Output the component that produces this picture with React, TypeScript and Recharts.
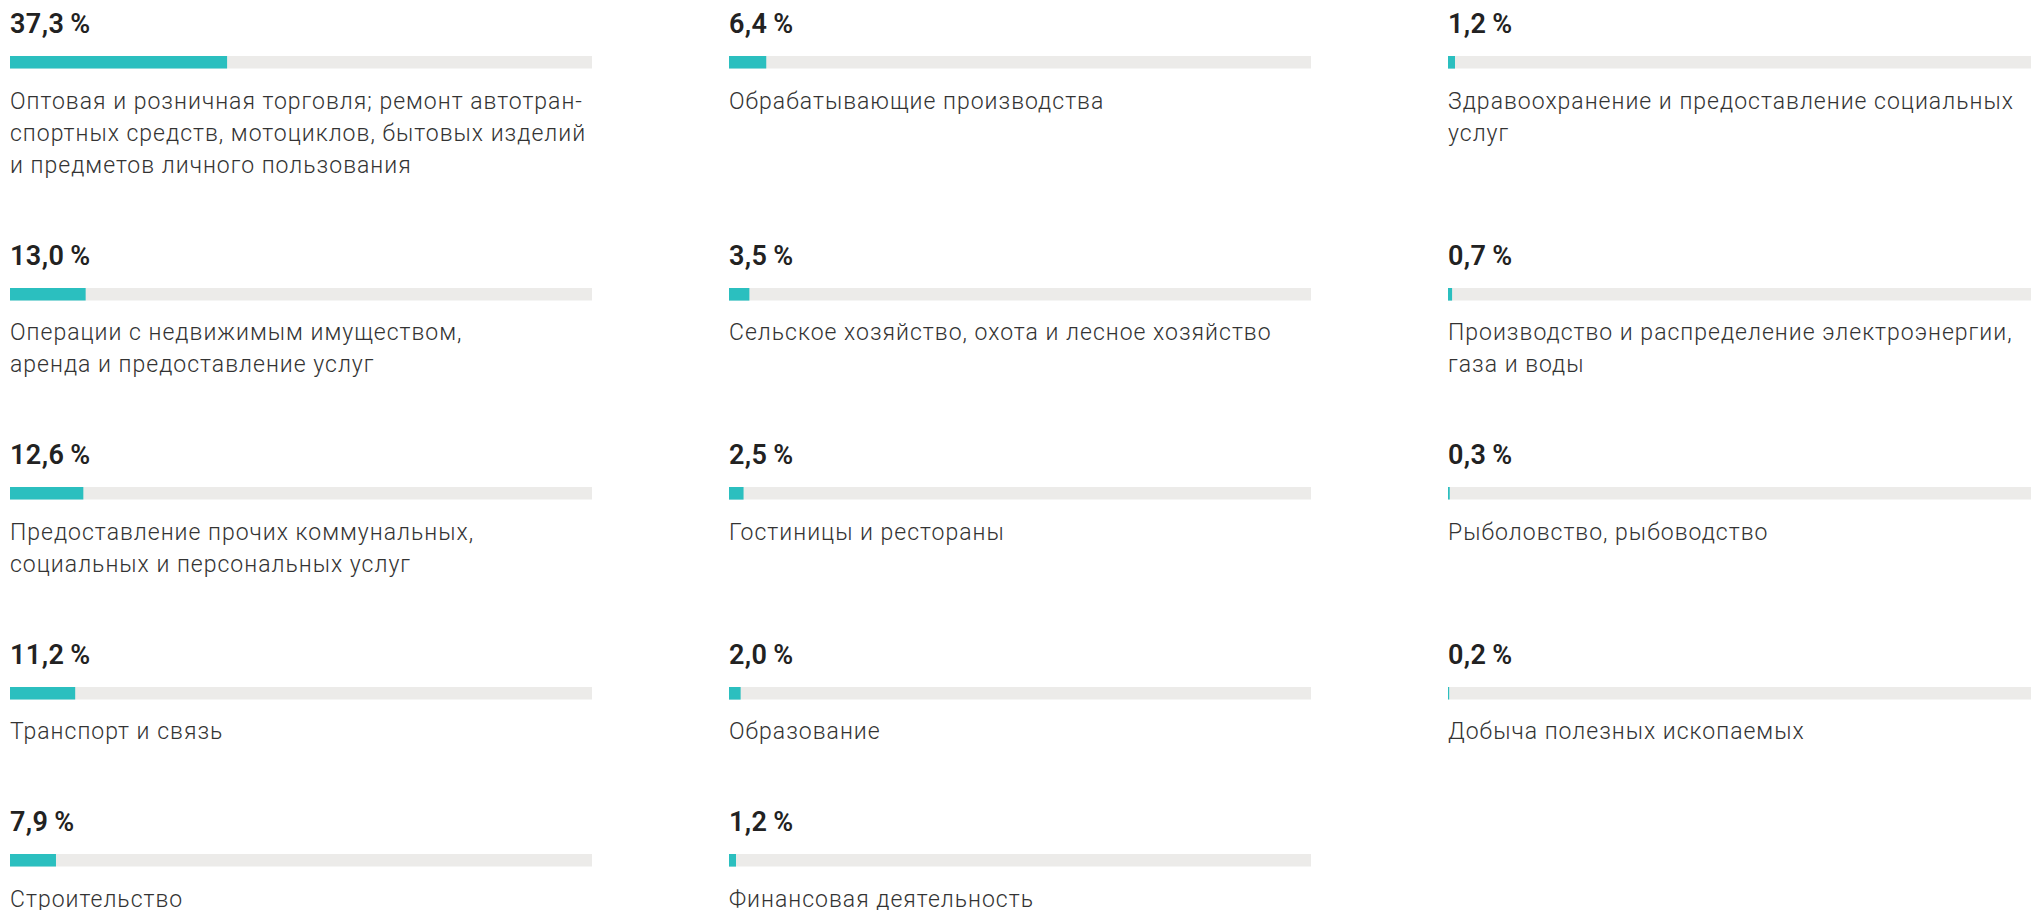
import { BarChart, Bar, XAxis, YAxis } from 'recharts'

// доли отраслей, %, по колонкам сверху вниз
const sectors = [
  'Оптовая и розничная торговля; ремонт автотран-\nспортных средств, мотоциклов, бытовых изделий\nи предметов личного пользования',
  'Операции с недвижимым имуществом,\nаренда и предоставление услуг',
  'Предоставление прочих коммунальных,\nсоциальных и персональных услуг',
  'Транспорт и связь',
  'Строительство',
  'Обрабатывающие производства',
  'Сельское хозяйство, охота и лесное хозяйство',
  'Гостиницы и рестораны',
  'Образование',
  'Финансовая деятельность',
  'Здравоохранение и предоставление социальных\nуслуг',
  'Производство и распределение электроэнергии,\nгаза и воды',
  'Рыболовство, рыбоводство',
  'Добыча полезных ископаемых',
]

const shares = [37.3, 13.0, 12.6, 11.2, 7.9, 6.4, 3.5, 2.5, 2.0, 1.2, 1.2, 0.7, 0.3, 0.2]

const columnWidths = [582, 582, 583]
const ROWS = 5

const TEAL = '#2bbfbf'
const TRACK = '#ecebe9'

function formatShare(v: number) {
  return v.toFixed(1).replace('.', ',') + '\u2009%'
}

function ShareRow({ name, value, width }: { name: string; value: number; width: number }) {
  const data = [{ name, value }]
  return (
    <div>
      <div
        style={{
          fontSize: 27,
          lineHeight: '30px',
          fontWeight: 600,
          color: '#222',
          letterSpacing: 0.4,
        }}
      >
        {formatShare(value)}
      </div>
      <div style={{ marginTop: 16, height: 14 }}>
        <BarChart
          width={width}
          height={14}
          data={data}
          layout="vertical"
          barCategoryGap={0}
          margin={{ top: 0, right: 0, bottom: 0, left: 0 }}
        >
          <XAxis type="number" domain={[0, 100]} hide />
          <YAxis type="category" dataKey="name" hide />
          <Bar
            dataKey="value"
            fill={TEAL}
            barSize={14}
            background={{ fill: TRACK }}
            isAnimationActive={false}
          />
        </BarChart>
      </div>
      <div
        style={{
          marginTop: 16.6,
          fontSize: 23,
          lineHeight: '32px',
          fontWeight: 300,
          color: '#333',
          letterSpacing: 1,
          whiteSpace: 'pre',
        }}
      >
        {name}
      </div>
    </div>
  )
}

export default function App() {
  return (
    <div
      style={{
        position: 'absolute',
        left: 0,
        top: 0,
        width: 2031,
        height: 910,
        overflow: 'hidden',
        background: '#fff',
        fontFamily: 'Roboto, "Noto Sans", sans-serif',
      }}
    >
      <div
        style={{
          display: 'grid',
          gridTemplateColumns: columnWidths.map((w) => `${w}px`).join(' '),
          gridTemplateRows: `repeat(${ROWS}, auto)`,
          gridAutoFlow: 'column',
          columnGap: 137,
          rowGap: 59,
          paddingLeft: 10,
          paddingTop: 9,
          alignItems: 'start',
        }}
      >
        {sectors.map((s, i) => (
          <ShareRow
            key={s}
            name={s}
            value={shares[i]}
            width={columnWidths[Math.floor(i / ROWS)]}
          />
        ))}
      </div>
    </div>
  )
}
